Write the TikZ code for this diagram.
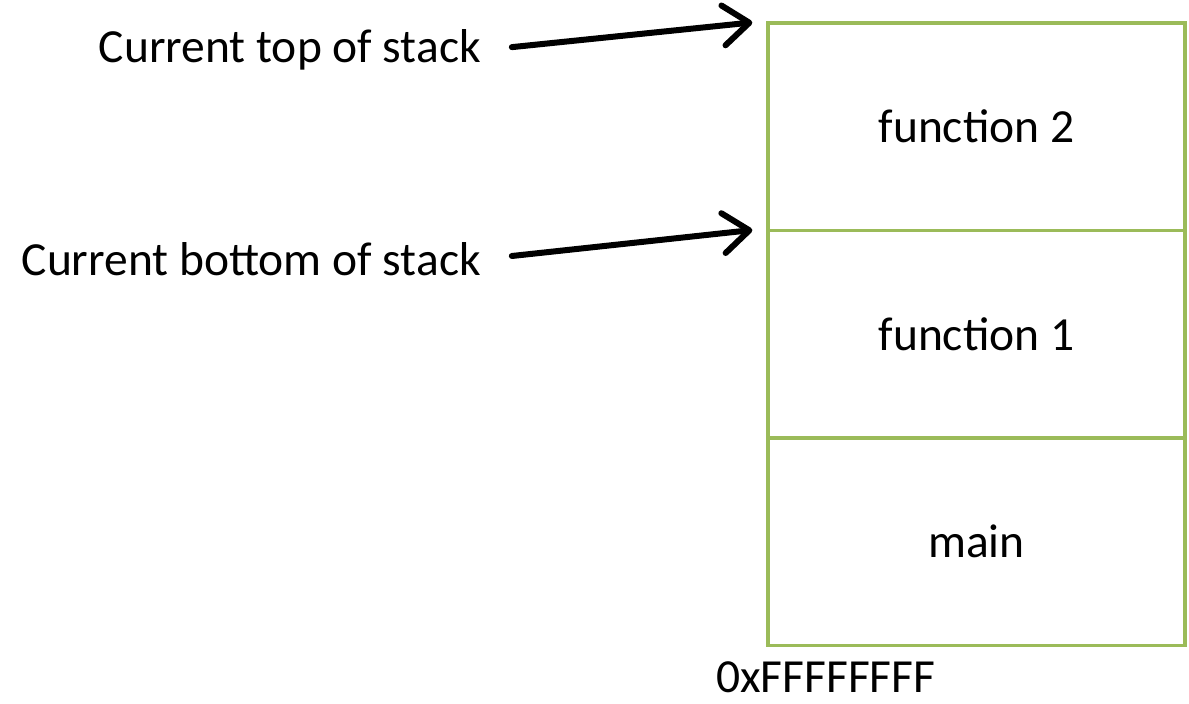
\documentclass[tikz,border=0pt]{standalone}
\usepackage{fontspec}
\setmainfont{Carlito}
\usepackage{tikz}
\usetikzlibrary{positioning, arrows.meta}
\definecolor{stackgreen}{RGB}{155,187,89}

\begin{document}
\begin{tikzpicture}[
  x=1pt, y=-1pt,
  every node/.style={font=\fontsize{47.5}{56}\selectfont},
  cell/.style={draw=stackgreen, line width=3.5pt, minimum width=417pt, minimum height=207.5pt, inner sep=0pt},
  lbl/.style={anchor=east, inner sep=3pt},
  arr/.style={-{Straight Barb[length=26pt, width=40pt, line cap=round, line join=round]}, line width=6pt, line cap=round}
]
\useasboundingbox (0,0) rectangle (1189,704);

\node[cell] (f2) at (976.5,126.5) {function 2};
\node[cell, below=-3.5pt of f2] (f1) {function 1};
\node[cell, below=-3.5pt of f1] (mn) {main};
\node[anchor=base west, inner sep=0pt] (addr) at (716,692) {0xFFFFFFFF};

\node[lbl] (toplbl) at (484,50) {Current top of stack};
\node[lbl] (botlbl) at (484,259) {Current bottom of stack};

\draw[arr, shorten <=28pt, shorten >=14pt] (toplbl.east) -- (f2.north west);
\draw[arr, shorten <=28pt, shorten >=14pt] (botlbl.east) -- (f1.north west);
\end{tikzpicture}
\end{document}
